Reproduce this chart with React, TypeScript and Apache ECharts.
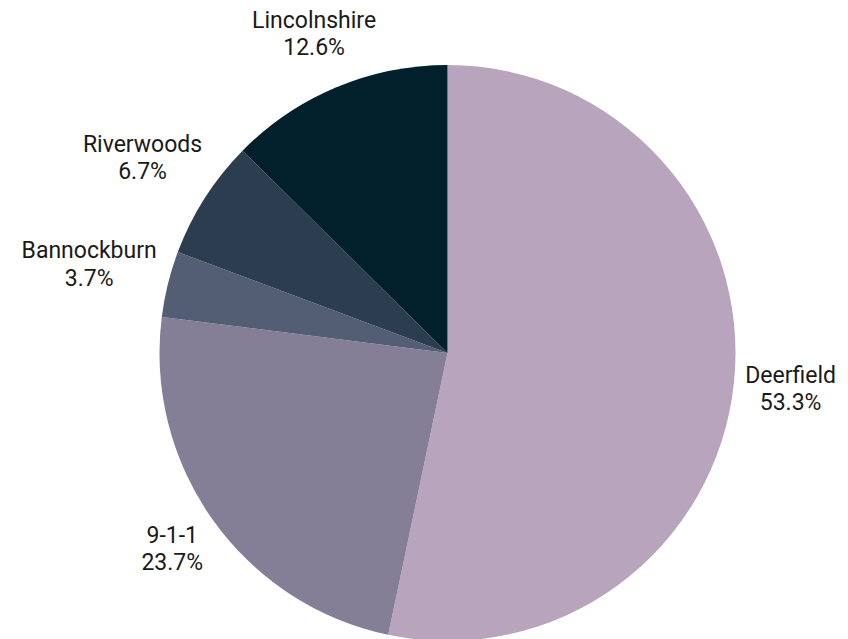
import React, { useEffect, useRef } from "react";
import * as echarts from "echarts";

const categories = ["Deerfield", "9-1-1", "Bannockburn", "Riverwoods", "Lincolnshire"];
const shares = [53.3, 23.7, 3.7, 6.7, 12.6];
const colors = ["#b8a4bc", "#847e97", "#535d73", "#2c3d4f", "#021f2c"];

const CX = 447.5;
const CY = 353;
const R = 288;
const GAP = 9;

export default function App() {
  const ref = useRef<HTMLDivElement>(null);
  useEffect(() => {
    if (!ref.current) return;
    const chart = echarts.init(ref.current, undefined, { renderer: "svg" });
    const total = shares.reduce((a, b) => a + b, 0);
    const mids: number[] = [];
    let acc = 0;
    shares.forEach((v) => {
      mids.push(((acc + v / 2) / total) * Math.PI * 2);
      acc += v;
    });
    chart.setOption({
      animation: false,
      backgroundColor: "#ffffff",
      series: [
        {
          type: "pie",
          center: [CX, CY],
          radius: R,
          startAngle: 90,
          clockwise: true,
          avoidLabelOverlap: false,
          data: categories.map((name, i) => ({
            name,
            value: shares[i],
            itemStyle: { color: colors[i] },
          })),
          label: {
            show: true,
            position: "outside",
            formatter: (p: any) => `${p.name}\n${shares[p.dataIndex].toFixed(1)}%`,
            fontFamily: "Roboto",
            fontSize: 23,
            lineHeight: 27.2,
            color: "#1a1a1a",
          },
          labelLine: { show: false },
          labelLayout: (p: any) => {
            const a = mids[p.dataIndex];
            const s = Math.sin(a);
            const c = Math.cos(a);
            const w = p.labelRect.width;
            const h = p.labelRect.height;
            const d = R + GAP + (w / 2) * Math.abs(s) + (h / 2) * Math.abs(c);
            return {
              x: CX + d * s,
              y: CY - d * c,
              align: "center",
              verticalAlign: "middle",
            };
          },
        },
      ],
    });
    return () => chart.dispose();
  }, []);
  return (
    <div
      ref={ref}
      style={{ position: "fixed", left: 0, top: 0, width: 848, height: 639 }}
    />
  );
}
